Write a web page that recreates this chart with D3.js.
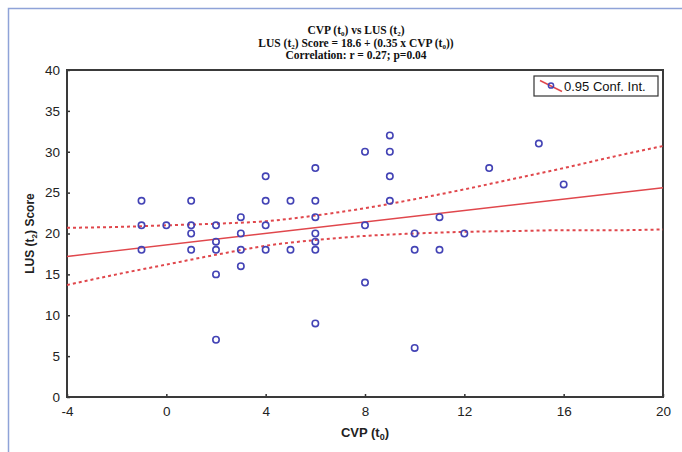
<!DOCTYPE html>
<html>
<head>
<meta charset="utf-8">
<script src="https://cdn.jsdelivr.net/npm/d3@7"></script>
<style>
  body { margin: 0; background: #fff; }
  svg { display: block; }
</style>
</head>
<body>
<script>
// Observed points: CVP (t0) and LUS (t2) score
const cvp = [-1, -1, -1, 0, 1, 1, 1, 1, 2, 2, 2, 2, 2, 3, 3, 3, 3, 4, 4, 4, 4, 5, 5,
             6, 6, 6, 6, 6, 6, 6, 8, 8, 8, 9, 9, 9, 9, 10, 10, 10, 11, 11, 12, 13, 15, 16];
const lus = [24, 21, 18, 21, 24, 21, 20, 18, 21, 19, 18, 15, 7, 22, 20, 18, 16, 27, 24, 21, 18, 24, 18,
             28, 24, 22, 20, 19, 18, 9, 30, 21, 14, 32, 30, 27, 24, 20, 18, 6, 22, 18, 20, 28, 31, 26];

// Fitted line LUS = 18.6 + 0.35 x CVP, ends of the drawn segment
const fitX = [-4, 20];
const fitY = [17.2, 25.6];

// 0.95 confidence band
const bandX = [-4, -2, 0, 2, 4, 6, 8, 10, 12, 14, 16, 18, 20];
const bandUpper = [20.7, 20.8, 21.0, 21.2, 21.5, 22.2, 23.1, 24.2, 25.4, 26.7, 28.0, 29.4, 30.7];
const bandLower = [13.7, 15.0, 16.2, 17.4, 18.5, 19.2, 19.7, 20.0, 20.2, 20.3, 20.4, 20.4, 20.5];

const xTicks = [-4, 0, 4, 8, 12, 16, 20];
const yTicks = [0, 5, 10, 15, 20, 25, 30, 35, 40];

const titleLines = [
  ["CVP (t", "0", ") vs LUS (t", "2", ")"],
  ["LUS (t", "2", ") Score = 18.6 + (0.35 x CVP (t", "0", "))"],
  ["Correlation: r = 0.27; p=0.04"]
];

const width = 682, height = 452;
const margin = { top: 70, right: 19, bottom: 55, left: 67 };

const svg = d3.select('body').append('svg')
  .attr('width', width)
  .attr('height', height);

// light blue page frame (top and left edges)
svg.append('path')
  .attr('d', `M8.5,${height} V8.5 H${width}`)
  .attr('fill', 'none')
  .attr('stroke', '#8fa3d8')
  .attr('stroke-width', 1.5);

let x = d3.scaleLinear().domain([-4, 20]).range([margin.left, width - margin.right]);
let y = d3.scaleLinear().domain([0, 40]).range([height - margin.bottom, margin.top]);

// Title
titleLines.forEach((parts, i) => {
  let t = svg.append('text')
    .attr('x', 356)
    .attr('y', 34 + i * 12.5)
    .attr('text-anchor', 'middle')
    .style('font-family', '"Liberation Serif", "Times New Roman", serif')
    .style('font-weight', 'bold')
    .style('font-size', '11.5px')
    .style('fill', '#111');
  parts.forEach((p, j) => {
    let s = t.append('tspan').text(p);
    if (j % 2 === 1) s.style('font-size', '7px').attr('dy', 2);
    else if (j > 0) s.attr('dy', -2);
  });
});

// Axes with inward ticks (plain hyphen for negatives, as in the original)
let xAxis = svg.append('g')
  .attr('transform', `translate(0, ${height - margin.bottom})`)
  .call(d3.axisBottom(x).tickValues(xTicks).tickFormat(d => String(d)).tickSize(-3).tickPadding(9));
let yAxis = svg.append('g')
  .attr('transform', `translate(${margin.left}, 0)`)
  .call(d3.axisLeft(y).tickValues(yTicks).tickFormat(d => String(d)).tickSize(-3).tickPadding(7));

[xAxis, yAxis].forEach(a => {
  a.select('.domain').remove();
  a.selectAll('line').attr('stroke', '#333').attr('stroke-width', 1.5);
  a.selectAll('text')
    .style('font-family', 'Arial, "Liberation Sans", sans-serif')
    .style('font-size', '13.5px')
    .style('fill', '#222');
});

// Plot frame
svg.append('rect')
  .attr('x', margin.left)
  .attr('y', margin.top)
  .attr('width', width - margin.left - margin.right)
  .attr('height', height - margin.top - margin.bottom)
  .attr('fill', 'none')
  .attr('stroke', '#3a3a3a')
  .attr('stroke-width', 2);

// Axis titles
let xt = svg.append('text')
  .attr('x', x(8))
  .attr('y', 437)
  .attr('text-anchor', 'middle')
  .style('font-family', 'Arial, "Liberation Sans", sans-serif')
  .style('font-weight', 'bold')
  .style('font-size', '13px')
  .style('fill', '#222');
xt.append('tspan').text('CVP (t');
xt.append('tspan').text('0').style('font-size', '9px').attr('dy', 3);
xt.append('tspan').text(')').attr('dy', -3);

let yt = svg.append('text')
  .attr('transform', `translate(34, ${(margin.top + height - margin.bottom) / 2}) rotate(-90)`)
  .attr('text-anchor', 'middle')
  .style('font-family', 'Arial, "Liberation Sans", sans-serif')
  .style('font-weight', 'bold')
  .style('font-size', '12px')
  .style('fill', '#222');
yt.append('tspan').text('LUS (t');
yt.append('tspan').text('2').style('font-size', '8px').attr('dy', 3);
yt.append('tspan').text(') Score').attr('dy', -3);

// Confidence band
const bandLine = d3.line().x(d => x(d[0])).y(d => y(d[1])).curve(d3.curveMonotoneX);
[bandUpper, bandLower].forEach(arr => {
  svg.append('path')
    .datum(bandX.map((v, i) => [v, arr[i]]))
    .attr('d', bandLine)
    .attr('fill', 'none')
    .attr('stroke', '#e0474c')
    .attr('stroke-width', 2)
    .attr('stroke-dasharray', '3,3');
});

// Regression line
svg.append('path')
  .datum(fitX.map((v, i) => [v, fitY[i]]))
  .attr('d', d3.line().x(d => x(d[0])).y(d => y(d[1])))
  .attr('fill', 'none')
  .attr('stroke', '#e0474c')
  .attr('stroke-width', 1.5);

// Points
svg.selectAll('circle.pt')
  .data(cvp.map((v, i) => ({ cvp: v, lus: lus[i] })))
  .enter()
  .append('circle')
  .attr('class', 'pt')
  .attr('cx', d => x(d.cvp))
  .attr('cy', d => y(d.lus))
  .attr('r', 3.2)
  .attr('fill', 'none')
  .attr('stroke', '#4343b5')
  .attr('stroke-width', 1.6);

// Legend
let legend = svg.append('g');
legend.append('rect')
  .attr('x', 534).attr('y', 76)
  .attr('width', 124).attr('height', 20)
  .attr('fill', '#fff')
  .attr('stroke', '#333')
  .attr('stroke-width', 1.2);
legend.append('line')
  .attr('x1', 540).attr('y1', 80.5)
  .attr('x2', 562).attr('y2', 91.5)
  .attr('stroke', '#e0474c')
  .attr('stroke-width', 1.5);
legend.append('circle')
  .attr('cx', 551).attr('cy', 85.5).attr('r', 2.6)
  .attr('fill', 'none')
  .attr('stroke', '#4343b5')
  .attr('stroke-width', 1.5);
legend.append('text')
  .attr('x', 564).attr('y', 90.5)
  .style('font-family', 'Arial, "Liberation Sans", sans-serif')
  .style('font-size', '13px')
  .style('fill', '#111')
  .text('0.95 Conf. Int.');
</script>
</body>
</html>
